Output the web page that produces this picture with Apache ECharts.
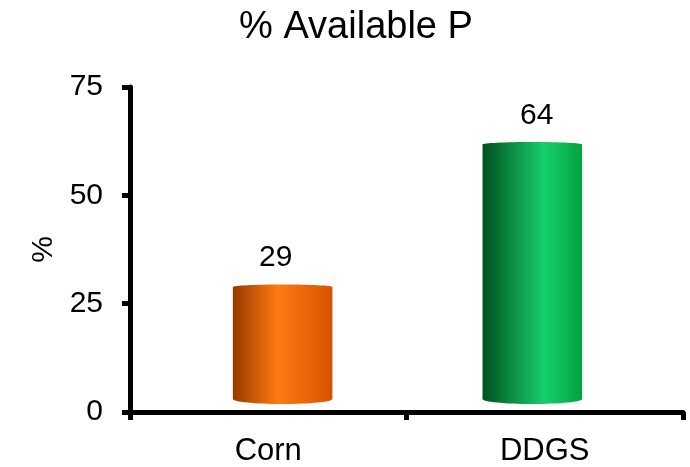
<!DOCTYPE html>
<html><head><meta charset="utf-8">
<script src="https://cdn.jsdelivr.net/npm/echarts@6/dist/echarts.min.js"></script>
<style>html,body{margin:0;padding:0;background:#fff}#c{width:690px;height:467px}</style>
</head><body><div id="c"></div>
<script>
const categories = ['Corn', 'DDGS'];
const values = [29, 64];
const yTicks = [0, 25, 50, 75];

// styling: gradient colours and horizontal offsets (fraction of band) per bar
const palettes = [
  ['#983a00', '#ff7a12', '#d65200'],
  ['#00511f', '#16cf6c', '#00a440']
];
const barShift = [0.052, -0.045];
const labelShift = [0.027, -0.029];
const font = 'Liberation Sans, Arial, sans-serif';

const chart = echarts.init(document.getElementById('c'));
chart.setOption({
  animation: false,
  title: { text: '% Available P', left: 351, top: 4, textAlign: 'center',
    textStyle: { fontFamily: font, fontSize: 38, fontWeight: 'normal', color: '#000' } },
  grid: { left: 130, right: 7, top: 87, bottom: 52 },
  xAxis: {
    type: 'category', data: categories,
    axisLine: { lineStyle: { color: '#000', width: 5 } },
    axisTick: { show: true, length: 8, lineStyle: { color: '#000', width: 5 } },
    axisLabel: { fontFamily: font, fontSize: 31, color: '#000', margin: 24 }
  },
  yAxis: [{
    type: 'value', min: yTicks[0], max: yTicks[yTicks.length - 1], interval: 25,
    name: '%', nameLocation: 'middle', nameGap: 71, nameRotate: 90,
    nameTextStyle: { fontFamily: font, fontSize: 30, color: '#000' },
    axisLine: { show: true, lineStyle: { color: '#000', width: 5 } },
    axisTick: { show: true, length: 8, lineStyle: { color: '#000', width: 5 } },
    axisLabel: { fontFamily: font, fontSize: 30, color: '#000', margin: 27 },
    splitLine: { show: false }
  }, {
    // hidden scale of the inset 3D plot floor the cylinders stand on
    type: 'value', min: -2.2, max: 77.6, show: false, splitLine: { show: false }
  }],
  series: [{
    type: 'custom',
    yAxisIndex: 1,
    data: values.map((v, i) => [i, v]),
    renderItem: function (params, api) {
      const i = params.dataIndex;
      const idx = api.value(0);
      const top = api.coord([idx, api.value(1)]);
      const base = api.coord([idx, 0]);
      const band = api.size([1, 0])[0];
      const w = band * 0.36;
      const cx = top[0] + band * barShift[i];
      const x = cx - w / 2;
      const bottom = base[1] - 4;
      const p = palettes[i];
      const grad = new echarts.graphic.LinearGradient(0, 0, 1, 0, [
        { offset: 0, color: p[0] },
        { offset: i === 0 ? 0.45 : 0.62, color: p[1] },
        { offset: 1, color: p[2] }
      ]);
      return {
        type: 'group',
        children: [
          { type: 'ellipse', shape: { cx: cx, cy: bottom, rx: w / 2, ry: 5 }, style: { fill: grad } },
          { type: 'rect', shape: { x: x, y: top[1] + 2, width: w, height: bottom - top[1] - 2 }, style: { fill: grad } },
          { type: 'ellipse', shape: { cx: cx, cy: top[1] + 2, rx: w / 2, ry: 2.5 }, style: { fill: grad } },
          { type: 'text', x: top[0] + band * labelShift[i], y: top[1] - 12,
            style: { text: String(api.value(1)), fontFamily: font, fontSize: 30, fill: '#000', align: 'center', verticalAlign: 'bottom' } }
        ]
      };
    }
  }]
});
</script></body></html>
